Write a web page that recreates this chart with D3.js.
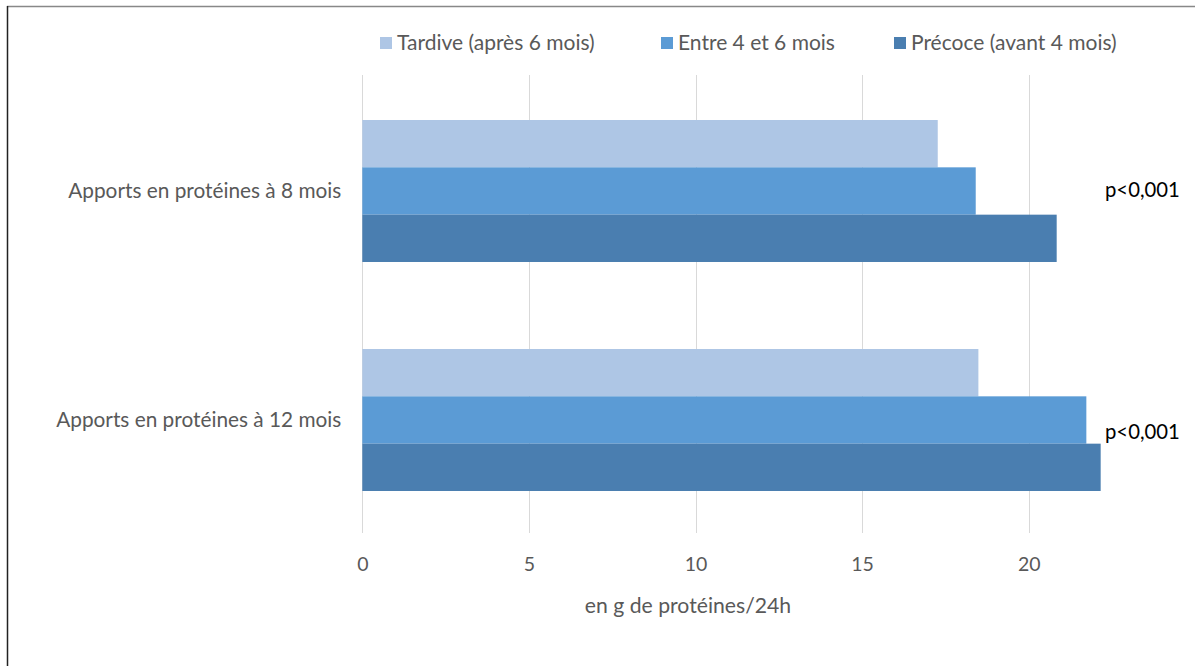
<!DOCTYPE html>
<html><head><meta charset="utf-8">
<script src="https://cdn.jsdelivr.net/npm/d3@7"></script>
<style>body{margin:0;background:#fff}svg{display:block}text{font-family:Lato,"Open Sans",sans-serif}</style>
</head><body>
<svg id="c" width="1195" height="666"></svg>
<script>
const categories = ["Apports en protéines à 8 mois", "Apports en protéines à 12 mois"];
const seriesNames = ["Tardive (après 6 mois)", "Entre 4 et 6 mois", "Précoce (avant 4 mois)"];
const tardive = [17.27, 18.49];
const entre = [18.41, 21.73];
const precoce = [20.84, 22.16];
const pLabels = ["p<0,001", "p<0,001"];
const xTicks = [0, 5, 10, 15, 20];
const colors = ["#aec6e5", "#5b9bd5", "#4a7eb0"];
const series = [tardive, entre, precoce];

const svg = d3.select("#c");
// frame
svg.append("line").attr("x1",7).attr("x2",1195).attr("y1",6.5).attr("y2",6.5).attr("stroke","#888").attr("stroke-width",1.5);
svg.append("line").attr("x1",7.5).attr("x2",7.5).attr("y1",6).attr("y2",666).attr("stroke","#222").attr("stroke-width",1.5);

const x = d3.scaleLinear().domain([0, 20]).range([362.3, 1028.7]);
const y = d3.scaleBand().domain(categories).range([76.5, 534.5]).paddingInner(0.38).paddingOuter(0.19);
const yi = d3.scaleBand().domain(d3.range(series.length)).range([0, y.bandwidth()]);

// gridlines
svg.append("g").selectAll("line").data(xTicks).join("line")
  .attr("x1", d => Math.round(x(d)) + 0.5).attr("x2", d => Math.round(x(d)) + 0.5)
  .attr("y1", 75).attr("y2", 533).attr("stroke", "#d9d9d9").attr("stroke-width", 1);

// bars
series.forEach((vals, si) => {
  svg.append("g").selectAll("rect").data(vals).join("rect")
    .attr("x", x(0))
    .attr("y", (d, i) => y(categories[i]) + yi(si))
    .attr("width", d => x(d) - x(0))
    .attr("height", yi.bandwidth())
    .attr("fill", colors[si]);
});

// x axis labels
const xAxis = d3.axisBottom(x).tickValues(xTicks).tickSize(0).tickPadding(0);
const gx = svg.append("g").attr("transform", "translate(0,564)").call(xAxis);
gx.select(".domain").remove();
gx.selectAll("text").attr("font-size", 19.5).attr("fill", "#595959").attr("dy", "0.35em")
  .style("font-family", "Lato, 'Open Sans', sans-serif");

svg.append("text").attr("x", 688).attr("y", 606).attr("dy", "0.35em").attr("text-anchor", "middle")
  .attr("font-size", 21.2).attr("fill", "#595959").text("en g de protéines/24h");

// y axis labels
const yAxis = d3.axisLeft(y).tickSize(0).tickPadding(21);
const gy = svg.append("g").attr("transform", `translate(${x(0)},0)`).call(yAxis);
gy.select(".domain").remove();
gy.selectAll("text").attr("font-size", 20.8).attr("fill", "#595959")
  .style("font-family", "Lato, 'Open Sans', sans-serif");

// p labels
const pY = [190, 432];
svg.append("g").selectAll("text").data(pLabels).join("text")
  .attr("x", 1105)
  .attr("y", (d, i) => pY[i])
  .attr("dy", "0.35em").attr("font-size", 20.3).attr("fill", "#000").text(d => d);

// legend
const legX = [380, 661, 894];
const leg = svg.append("g").selectAll("g").data(seriesNames).join("g")
  .attr("transform", (d, i) => `translate(${legX[i]},43)`);
leg.append("rect").attr("x", 0).attr("y", -6).attr("width", 12).attr("height", 12).attr("fill", (d, i) => colors[i]);
leg.append("text").attr("x", 17).attr("dy", "0.35em").attr("font-size", 21).attr("fill", "#595959").text(d => d);
</script>
</body></html>
